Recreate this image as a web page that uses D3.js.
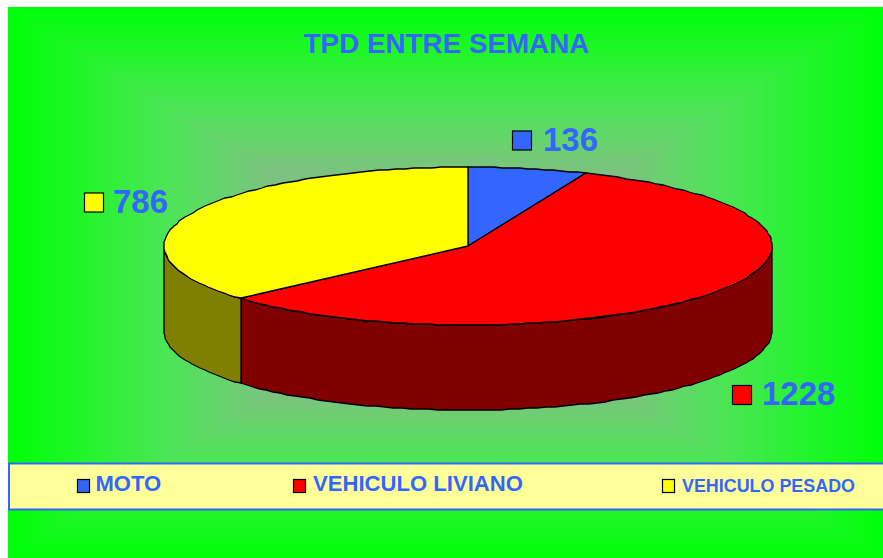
<!DOCTYPE html>
<html>
<head>
<meta charset="utf-8">
<style>html,body{margin:0;padding:0;background:#fff;overflow:hidden}svg{display:block}text{font-family:"Liberation Sans",Arial,sans-serif;font-weight:bold;fill:#3366ff}</style>
<script src="https://cdn.jsdelivr.net/npm/d3@7"></script>
</head>
<body>
<script>
const categories = ["MOTO", "VEHICULO LIVIANO", "VEHICULO PESADO"];
const values = [136, 1228, 786];
const topColors = ["#3366ff", "#ff0000", "#ffff00"];
const sideColors = ["#1a3380", "#800000", "#808000"];
const title = "TPD ENTRE SEMANA";

const W = 883, H = 558;
const svg = d3.select("body").append("svg").attr("width", W).attr("height", H);

// Rectangular path gradient background
const bgX = [8, 883], bgY = [7, 558];
const cx0 = (bgX[0] + bgX[1]) / 2, cy0 = (bgY[0] + bgY[1]) / 2;
const bgColor = d3.scaleLinear()
  .domain([0, 0.41, 0.63, 0.84, 1])
  .range(["#88b088", "#7dc280", "#50e35a", "#22f52a", "#00ff0a"])
  .interpolate(d3.interpolateRgb);
const bands = d3.range(48, 0, -1).map(i => i / 48);
svg.selectAll("rect.bg").data(bands).join("rect").attr("class", "bg")
  .attr("x", t => cx0 - t * (bgX[1] - bgX[0]) / 2)
  .attr("y", t => cy0 - t * (bgY[1] - bgY[0]) / 2)
  .attr("width", t => t * (bgX[1] - bgX[0]))
  .attr("height", t => t * (bgY[1] - bgY[0]))
  .attr("fill", t => bgColor(t));

// Title
svg.append("text").attr("x", 446.5).attr("y", 52.5).attr("text-anchor", "middle")
  .style("font-size", "27.8px").text(title);

// Pie
const cx = 468, cy = 246, rx = 304, ry = 79, depth = 85;
const px = d3.scaleLinear().domain([-1, 1]).range([cx - rx, cx + rx]);
const py = d3.scaleLinear().domain([-1, 1]).range([cy + ry, cy - ry]);
const pie = d3.pie().sort(null).value(d => d)(values);
const pt = (a, dz = 0) => [Math.round(px(Math.sin(a))), Math.round(py(Math.cos(a))) + dz];
const arcPts = (a0, a1, dz = 0) => {
  const n = Math.max(2, Math.ceil(Math.abs(a1 - a0) / 0.03));
  return d3.range(n + 1).map(i => pt(a0 + (a1 - a0) * i / n, dz));
};
const line = d3.line();

// Side walls (only front half visible: angle PI/2 .. 3PI/2)
const lo = Math.PI / 2, hi = 3 * Math.PI / 2;
pie.forEach((d, i) => {
  const a0 = Math.max(d.startAngle, lo), a1 = Math.min(d.endAngle, hi);
  if (a1 <= a0) return;
  const poly = arcPts(a0, a1).concat(arcPts(a1, a0, depth));
  svg.append("path").attr("d", line(poly) + "Z")
    .attr("fill", sideColors[i]).attr("stroke", "#000").attr("stroke-width", 1.3);
});

// Top faces
pie.forEach((d, i) => {
  const poly = [[cx, cy]].concat(arcPts(d.startAngle, d.endAngle));
  svg.append("path").attr("d", line(poly) + "Z")
    .attr("fill", topColors[i]).attr("stroke", "#000").attr("stroke-width", 1.3);
});

// Data labels
const marks = [[512, 130.5, 543, 151, 33], [732, 385, 762, 405, 33], [84, 192.5, 113, 213, 33]];
marks.forEach((m, i) => {
  svg.append("rect").attr("x", m[0] + .5).attr("y", m[1] + .5).attr("width", 19).attr("height", 19)
    .attr("fill", topColors[i]).attr("stroke", "#000").attr("stroke-width", 1.2);
  svg.append("text").attr("x", m[2]).attr("y", m[3]).style("font-size", m[4] + "px").text(values[i]);
});

// Legend
svg.append("rect").attr("x", 9).attr("y", 463.5).attr("width", 880).attr("height", 46)
  .attr("fill", "#ffff99").attr("stroke", "#3366ff").attr("stroke-width", 2);
const leg = [[77, 95.5, 491, 22], [293, 313, 491, 22.1], [662, 682, 492, 17.9]];
leg.forEach((l, i) => {
  svg.append("rect").attr("x", l[0] + .5).attr("y", 479.5).attr("width", 12).attr("height", 13)
    .attr("fill", topColors[i]).attr("stroke", "#000").attr("stroke-width", 1.2);
  svg.append("text").attr("x", l[1]).attr("y", l[2]).style("font-size", l[3] + "px").text(categories[i]);
});
</script>
</body>
</html>
